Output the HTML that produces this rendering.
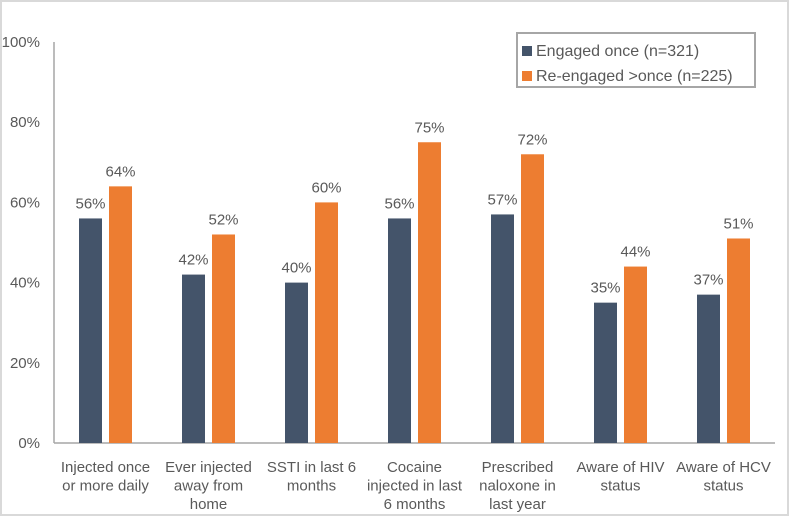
<!DOCTYPE html>
<html><head><meta charset="utf-8"><style>
body{margin:0;background:#fff;}
#wrap{position:relative;width:789px;height:516px;box-sizing:border-box;border:2px solid #d9d9d9;background:#fff;overflow:hidden;}
svg text{font-family:"Liberation Sans",sans-serif;fill:#595959;}
</style></head><body>
<div id="wrap">
<svg id="chart" width="785" height="512" viewBox="2 2 785 512"></svg>
</div>
<script>
const categories=[["Injected once","or more daily"],["Ever injected","away from","home"],["SSTI in last 6","months"],["Cocaine","injected in last","6 months"],["Prescribed","naloxone in","last year"],["Aware of HIV","status"],["Aware of HCV","status"]];
const engagedOnce=[56,42,40,56,57,35,37];
const reEngaged=[64,52,60,75,72,44,51];
const yTicks=[0,20,40,60,80,100];
const NS="http://www.w3.org/2000/svg";
const svg=document.getElementById('chart');
const x0=54,band=103,y0=443,yTop=42;
const y=v=>y0-(y0-yTop)*v/100;
const cx=i=>x0+band*(i+0.5);
function mk(t,a){const e=document.createElementNS(NS,t);for(const k in a)e.setAttribute(k,a[k]);svg.appendChild(e);return e;}
yTicks.forEach(v=>{const t=mk('text',{x:40,y:y(v)+5,'text-anchor':'end','font-size':15});t.textContent=v+'%';

});
const ax=mk('line',{x1:x0,y1:yTop,x2:x0,y2:y0,stroke:'#a6a6a6','stroke-width':1.5});


const bx=mk('line',{x1:x0,y1:y0,x2:x0+band*7,y2:y0,stroke:'#a6a6a6','stroke-width':1.5});


const bw=23,gap=3.5;
categories.forEach((c,i)=>{
 [[engagedOnce,'#44546a',-1],[reEngaged,'#ed7d31',1]].forEach(([arr,col,s])=>{
  const v=arr[i];const bxp=s<0?cx(i)-gap-bw:cx(i)+gap;
  const r=mk('rect',{x:bxp,y:y(v),width:bw,height:y0-y(v),fill:col});
  
  
  const t=mk('text',{x:bxp+bw/2,y:y(v)-10,'text-anchor':'middle','font-size':15});t.textContent=v+'%';
  
  
 });
 c.forEach((ln,j)=>{const t=mk('text',{x:cx(i),y:472+j*18.5,'text-anchor':'middle','font-size':15});t.textContent=ln;
  
  });
});
const lg=mk('rect',{x:517,y:33,width:238,height:54,fill:'#fff',stroke:'#a6a6a6','stroke-width':2});


[['Engaged once (n=321)','#44546a'],['Re-engaged >once (n=225)','#ed7d31']].forEach(([n,c],k)=>{
 const s=mk('rect',{x:522,y:46+k*25,width:10,height:10,fill:c});
 
 
 const t=mk('text',{x:536,y:56+k*25,'font-size':16});t.textContent=n;
 
 
});
</script>
</body></html>
